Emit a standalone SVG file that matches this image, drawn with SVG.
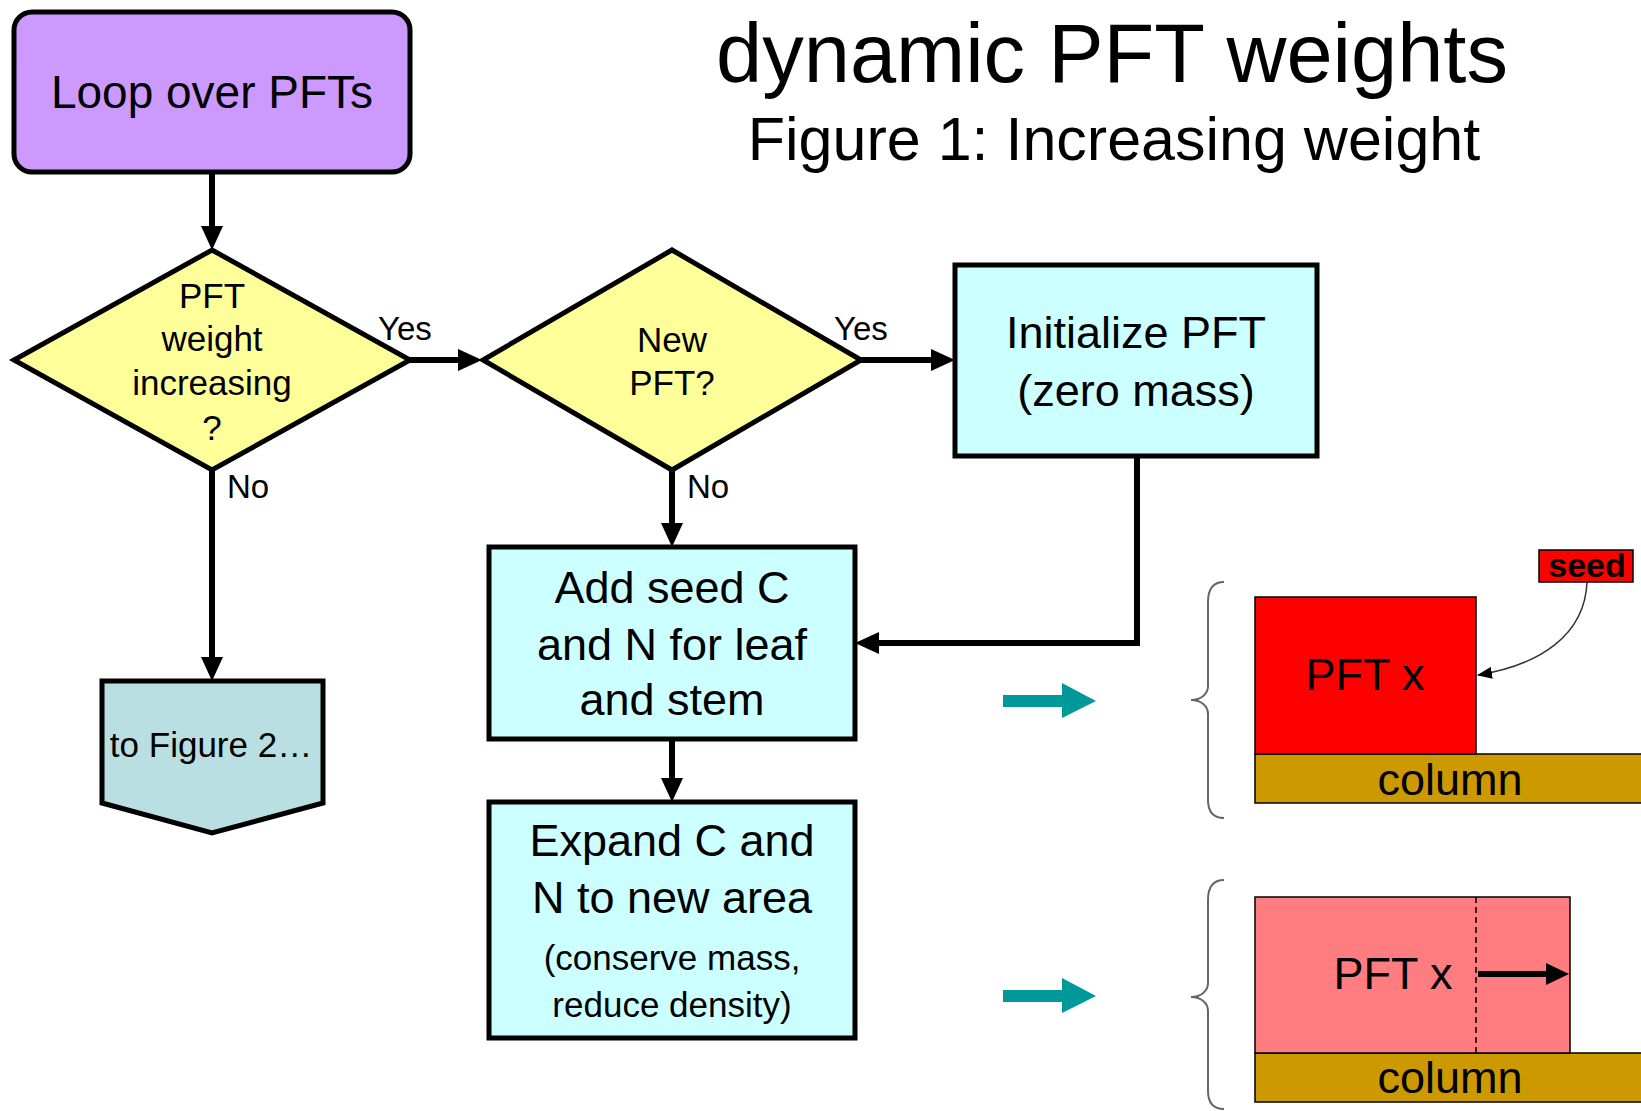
<svg xmlns="http://www.w3.org/2000/svg" width="1641" height="1111" viewBox="0 0 1641 1111">
  <defs>
    <style>
      text { font-family: "Liberation Sans", Arial, sans-serif; fill: #000; }
      .c { text-anchor: middle; }
      .shape { stroke: #000; stroke-width: 5; }
      .link { fill: none; stroke: #000; stroke-width: 6; }
      .thin { stroke: #000; stroke-width: 1.5; }
      .brace { fill: none; stroke: #666; stroke-width: 2; }
      .teal { fill: #009999; }
      .f46 { font-size: 46px; }
      .f45 { font-size: 45px; }
      .f35 { font-size: 35px; }
      .f33 { font-size: 33px; }
    </style>
    <marker id="head" markerUnits="userSpaceOnUse" markerWidth="24" markerHeight="22" refX="12" refY="11" orient="auto">
      <path d="M0,0 L24,11 L0,22 Z" fill="#000"/>
    </marker>
    <marker id="thinhead" markerUnits="userSpaceOnUse" markerWidth="15" markerHeight="12" refX="14" refY="6" orient="auto">
      <path d="M0,0 L15,6 L0,12 Z" fill="#000"/>
    </marker>
  </defs>

  <rect width="1641" height="1111" fill="#fff"/>

  <!-- title -->
  <g id="title">
    <text class="c" x="1112" y="82" style="font-size:83px">dynamic PFT weights</text>
    <text class="c" x="1114" y="160" style="font-size:61px">Figure 1: Increasing weight</text>
  </g>

  <!-- flowchart connectors -->
  <g id="connectors">
    <line class="link" x1="212" y1="172" x2="212" y2="238" marker-end="url(#head)"/>
    <line class="link" x1="410" y1="360" x2="470" y2="360" marker-end="url(#head)"/>
    <line class="link" x1="861" y1="360" x2="943" y2="360" marker-end="url(#head)"/>
    <line class="link" x1="212" y1="470" x2="212" y2="669" marker-end="url(#head)"/>
    <line class="link" x1="672" y1="470" x2="672" y2="535" marker-end="url(#head)"/>
    <polyline class="link" points="1137,456 1137,643 867,643" marker-end="url(#head)"/>
    <line class="link" x1="672" y1="739" x2="672" y2="790" marker-end="url(#head)"/>
    <text class="f33" x="378" y="340">Yes</text>
    <text class="f33" x="834" y="340">Yes</text>
    <text class="f33" x="227" y="498">No</text>
    <text class="f33" x="687" y="498">No</text>
  </g>

  <g id="loop">
    <rect class="shape" x="14" y="12" width="396" height="160" rx="18" fill="#CC99FF"/>
    <text class="c f46" x="212" y="108">Loop over PFTs</text>
  </g>

  <g id="weight-increasing">
    <polygon class="shape" points="212,250 410,360 212,470 14,360" fill="#FFFF99"/>
    <text class="c f35" x="212" y="308">PFT</text>
    <text class="c f35" x="212" y="351">weight</text>
    <text class="c f35" x="212" y="395">increasing</text>
    <text class="c f35" x="212" y="440">?</text>
  </g>

  <g id="new-pft">
    <polygon class="shape" points="672,250 861,360 672,470 483,360" fill="#FFFF99"/>
    <text class="c f35" x="672" y="352">New</text>
    <text class="c f35" x="672" y="395">PFT?</text>
  </g>

  <g id="initialize">
    <rect class="shape" x="955" y="265" width="362" height="191" fill="#CCFFFF"/>
    <text class="c f45" x="1136" y="348">Initialize PFT</text>
    <text class="c f45" x="1136" y="406">(zero mass)</text>
  </g>

  <g id="add-seed">
    <rect class="shape" x="489" y="547" width="366" height="192" fill="#CCFFFF"/>
    <text class="c f45" x="672" y="603">Add seed C</text>
    <text class="c f45" x="672" y="660">and N for leaf</text>
    <text class="c f45" x="672" y="715">and stem</text>
  </g>

  <g id="expand">
    <rect class="shape" x="489" y="802" width="366" height="236" fill="#CCFFFF"/>
    <text class="c f45" x="672" y="856">Expand C and</text>
    <text class="c f45" x="672" y="913">N to new area</text>
    <text class="c f35" x="672" y="970">(conserve mass,</text>
    <text class="c f35" x="672" y="1017">reduce density)</text>
  </g>

  <g id="to-figure-2">
    <polygon class="shape" points="102,681 323,681 323,803 212,833 102,803" fill="#B9DFE3"/>
    <text class="c f35" x="211" y="757">to Figure 2…</text>
  </g>

  <!-- column sketch: seed added -->
  <g id="sketch-seed">
    <path class="teal" d="M1003,695 H1062 V683 L1096,701 L1062,718 V707 H1003 Z"/>
    <path class="brace" d="M1224,582 C1212,582 1208,590 1208,602 L1208,686 C1208,694 1201,700 1191,700 C1201,700 1208,706 1208,714 L1208,800 C1208,810 1212,818 1224,818"/>
    <rect class="thin" x="1255" y="754" width="400" height="49" fill="#CC9900"/>
    <rect class="thin" x="1255" y="597" width="221" height="157" fill="#FF0000"/>
    <text class="c f45" x="1365" y="690">PFT x</text>
    <text class="c f45" x="1450" y="795">column</text>
    <rect class="thin" x="1539" y="550" width="94" height="32" fill="#FF0000"/>
    <text class="c" x="1587" y="577" style="font-size:34px;font-weight:bold">seed</text>
    <path d="M1587,582 C1585,635 1540,665 1478,675" fill="none" stroke="#333" stroke-width="1.5" marker-end="url(#thinhead)"/>
  </g>

  <!-- column sketch: area expanded -->
  <g id="sketch-expand">
    <path class="teal" d="M1003,990 H1062 V978 L1096,996 L1062,1013 V1002 H1003 Z"/>
    <path class="brace" d="M1224,880 C1212,880 1208,888 1208,900 L1208,983 C1208,991 1201,997 1191,997 C1201,997 1208,1003 1208,1011 L1208,1091 C1208,1101 1212,1109 1224,1109"/>
    <rect class="thin" x="1255" y="1053" width="400" height="49" fill="#CC9900"/>
    <rect class="thin" x="1255" y="897" width="315" height="156" fill="#FF7C80"/>
    <line x1="1476" y1="897" x2="1476" y2="1053" stroke="#000" stroke-width="1.5" stroke-dasharray="6,4"/>
    <text class="c f45" x="1393" y="989">PFT x</text>
    <path d="M1478,971 H1546 V963 L1569,974 L1546,985 V977 H1478 Z" fill="#000"/>
    <text class="c f45" x="1450" y="1093">column</text>
  </g>
</svg>
